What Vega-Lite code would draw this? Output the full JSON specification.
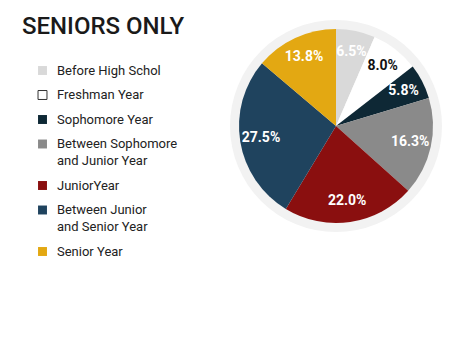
{
  "$schema": "https://vega.github.io/schema/vega-lite/v6.json",
  "width": 226,
  "height": 226,
  "autosize": {"type": "none"},
  "padding": {"left": 223, "top": 13, "right": 26, "bottom": 111},
  "background": "white",
  "title": {
    "text": "SENIORS ONLY",
    "anchor": "start",
    "frame": "group",
    "dx": -201,
    "dy": 45,
    "offset": 0,
    "baseline": "alphabetic",
    "font": "Roboto",
    "fontSize": 24,
    "fontWeight": 500,
    "color": "#1a1a1a"
  },
  "config": {"view": {"stroke": null}},
  "data": {
    "values": [
      {"category": "Before High Schol", "value": 6.5, "label": "6.5%", "idx": 1},
      {"category": "Freshman Year", "value": 8.0, "label": "8.0%", "idx": 2},
      {"category": "Sophomore Year", "value": 5.8, "label": "5.8%", "idx": 3},
      {"category": "Between Sophomore and Junior Year", "value": 16.3, "label": "16.3%", "idx": 4},
      {"category": "JuniorYear", "value": 22.0, "label": "22.0%", "idx": 5},
      {"category": "Between Junior and Senior Year", "value": 27.5, "label": "27.5%", "idx": 6},
      {"category": "Senior Year", "value": 13.8, "label": "13.8%", "idx": 7}
    ]
  },
  "layer": [
    {
      "data": {"values": [{"v": 1}]},
      "mark": {"type": "arc", "outerRadius": 106, "color": "#f2f2f2", "theta": 0, "theta2": 6.2832},
      "encoding": {}
    },
    {
      "mark": {"type": "arc", "outerRadius": 97},
      "encoding": {
        "theta": {"field": "value", "type": "quantitative", "stack": true},
        "order": {"field": "idx", "type": "quantitative"},
        "color": {
          "field": "category",
          "type": "nominal",
          "scale": {
            "domain": ["Before High Schol", "Freshman Year", "Sophomore Year", "Between Sophomore and Junior Year", "JuniorYear", "Between Junior and Senior Year", "Senior Year"],
            "range": ["#d9d9d9", "#ffffff", "#0e2835", "#8a8a8a", "#8a0f0f", "#1f435e", "#e3a812"]
          },
          "sort": null,
          "legend": {
            "title": null,
            "orient": "none",
            "legendX": -187,
            "legendY": 51,
            "padding": 0,
            "symbolType": "square",
            "symbolSize": 80,
            "symbolStrokeWidth": 1,
            "labelFont": "Roboto",
            "labelFontSize": 13,
            "labelColor": "#222222",
            "labelOffset": 8,
            "labelLimit": 300,
            "rowPadding": 10.5,
            "labelExpr": "datum.label == 'Between Sophomore and Junior Year' ? ['Between Sophomore', 'and Junior Year'] : datum.label == 'Between Junior and Senior Year' ? ['Between Junior', 'and Senior Year'] : datum.label",
            "symbolOpacity": 1,
            "encode": {
              "symbols": {"update": {"stroke": {"signal": "datum.value == 'Freshman Year' ? '#333333' : 'transparent'"}}},
              "labels": {"update": {"lineHeight": {"value": 17}}}
            }
          }
        }
      }
    },
    {
      "mark": {"type": "text", "radius": 76, "font": "Roboto", "fontSize": 14, "fontWeight": "bold"},
      "encoding": {
        "theta": {"field": "value", "type": "quantitative", "stack": true},
        "order": {"field": "idx", "type": "quantitative"},
        "text": {"field": "label", "type": "nominal"},
        "color": {
          "condition": {"test": "datum.category == 'Freshman Year'", "value": "#111111"},
          "value": "#ffffff"
        }
      }
    }
  ],
  "resolve": {"scale": {"theta": "independent"}}
}
